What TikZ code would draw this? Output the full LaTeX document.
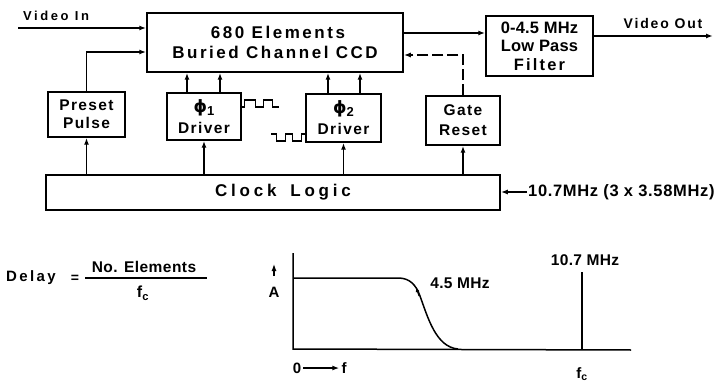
\documentclass[tikz,border=0pt]{standalone}
\usepackage{fontspec}
\setmainfont{Liberation Sans}
\newfontfamily\lettering{Liberation Sans}[LetterSpace=9]
\newfontfamily\greek{DejaVu Sans}
\usetikzlibrary{arrows.meta, positioning, calc}
\newcommand\lsize[2]{\lettering\bfseries\fontsize{#1}{#2}\selectfont}
\newcommand\phase[1]{{\greek\fontsize{17}{17}\selectfont ϕ}\raisebox{-3pt}{\fontsize{13}{13}\selectfont #1}}
\tikzset{
  blk/.style={draw, line width=1.5pt, inner sep=0pt, align=center, font=\lsize{15.5}{18}},
  lbl/.style={inner sep=0pt, font=\lsize{14}{16}},
  sig/.style={-{Latex[length=7pt,width=5pt]}, line width=1.5pt},
  wire/.style={line width=1.5pt},
}

\begin{document}
\begin{tikzpicture}[x=1pt, y=-1pt]
  \useasboundingbox (0,0) rectangle (725,382);

  % blocks
  \node[blk, minimum width=256pt, minimum height=59pt,
    font=\lsize{17}{20}\addfontfeature{LetterSpace=15}] (ccd) at (275,42.5)
    {\hspace{6pt}680 Elements\\Buried Channel CCD};
  \node[blk, minimum width=107pt, minimum height=60pt,
    font=\lsize{16.5}{18.5}\addfontfeature{LetterSpace=1}] (filt) at (539.5,46)
    {0-4.5 MHz\\Low Pass\\{\addfontfeature{LetterSpace=13}Filter}};
  \node[blk, minimum width=77pt, minimum height=45pt] (preset) at (86.5,114.5) {Preset\\Pulse};
  \node[blk, minimum width=74pt, minimum height=47pt, font=\lsize{15.5}{21}] (drvone) at (204,116.5)
    {\phase{1}\\Driver};
  \node[blk, minimum width=75pt, minimum height=48pt, font=\lsize{15.5}{21}] (drvtwo) at (343.5,118)
    {\phase{2}\\Driver};
  \node[blk, minimum width=74pt, minimum height=49pt, font=\lsize{15.5}{20}] (gate) at (463,120.5)
    {Gate\\Reset};
  \node[blk, minimum width=454pt, minimum height=35pt,
    font=\lsize{17}{20}\addfontfeature{LetterSpace=22}] (clock) at (273,192.5)
    {\hspace{20pt}Clock\hspace{14pt}Logic};

  % signals
  \node[lbl, font=\lsize{13}{15}\addfontfeature{LetterSpace=20}] (vinlbl) at (56,16) {Video In};
  \coordinate (vin) at (18,28);
  \draw[sig] (vin) -- (vin -| ccd.west);
  \draw[sig] (preset.north) |- ([yshift=-9.5pt]ccd.west);
  \coordinate (ccdout) at ([yshift=9.5pt]ccd.east);
  \draw[sig] (ccdout) -- (ccdout -| filt.west);
  \node[lbl, font=\lsize{14}{16}\addfontfeature{LetterSpace=13}] (voutlbl) at (663,23) {Video Out};
  \coordinate (vout) at (713,36);
  \draw[sig] (filt.east |- vout) -- (vout);
  \draw[sig, dash pattern=on 11pt off 4pt] (gate.north) |- ([yshift=-12.5pt]ccd.east);
  \foreach \b/\d in {drvone/-17, drvone/16, drvtwo/-15.5, drvtwo/16.5} {
    \coordinate (ph) at ([xshift=\d pt]\b.north);
    \draw[sig] (ph) -- (ph |- ccd.south);
  }
  \foreach \b in {preset, drvone, drvtwo, gate}
    \draw[sig] (\b.south |- clock.north) -- (\b.south);
  \node[lbl, anchor=west, font=\lsize{16.5}{20}\addfontfeature{LetterSpace=4}] (clkin) at (528,192)
    {10.7MHz (3 x 3.58MHz)};
  \draw[sig] ([xshift=-1pt]clkin.west) -- (clkin.west -| clock.east);

  % clock waveforms
  \draw[line width=1.2pt] ([yshift=9.5pt]drvone.east) -- ++(3,0) -- ++(0,-7) -- ++(11,0) -- ++(0,7)
    -- ++(8,0) -- ++(0,-7) -- ++(9,0) -- ++(0,7) -- ++(6,0);
  \draw[line width=1.2pt] ([yshift=-16pt]drvtwo.west) -- ++(-4,0) -- ++(0,7) -- ++(-9,0) -- ++(0,-7)
    -- ++(-7,0) -- ++(0,7) -- ++(-9,0) -- ++(0,-7) -- ++(-5,0);

  % delay formula
  \node[lbl, font=\lsize{15}{17}\addfontfeature{LetterSpace=16}] (delay) at (31,278) {Delay};
  \node[lbl] (eq) at (75,279) {=};
  \node[lbl, font=\lsize{15.5}{18}\addfontfeature{LetterSpace=3}] (num) at (144,267) {No. Elements};
  \node[lbl, font=\lsize{16}{18}] (den) at (143,293) {f\textsubscript{c}};
  \draw[wire] (85,278) -- (207,278);

  % response sketch
  \draw[wire] (293,253) -- (293,349) -- (631,350);
  \draw[wire] (293,278) -- (398,278) .. controls (410,278) and (416,285) .. (420,296)
    .. controls (428,318) and (436,347) .. (458,349);
  \draw[wire] (582,272) -- (582,350);
  \draw[-{Latex[length=5pt,width=4pt]}, line width=1pt] (419,296) -- (416,287);
  \node[lbl, font=\lsize{15.5}{18}\addfontfeature{LetterSpace=2}] (fourfive) at (460,283) {4.5 MHz};
  \node[lbl, font=\lsize{15.5}{18}\addfontfeature{LetterSpace=2}] (tenseven) at (585,260) {10.7 MHz};
  \node[lbl, font=\lsize{15}{17}] (amp) at (274,292) {A};
  \coordinate (abot) at (274,276);
  \coordinate (atop) at (274,264);
  \draw[sig, line width=1.2pt] (abot) -- (atop);
  \node[lbl, font=\lsize{15}{17}] (zero) at (297,368) {0};
  \node[lbl, font=\lsize{15}{17}] (fvar) at (344,368) {f};
  \draw[sig, shorten <=2pt, shorten >=2pt] (zero) -- (fvar);
  \node[lbl, font=\lsize{15}{17}] (fc) at (582,374) {f\textsubscript{c}};
\end{tikzpicture}
\end{document}
